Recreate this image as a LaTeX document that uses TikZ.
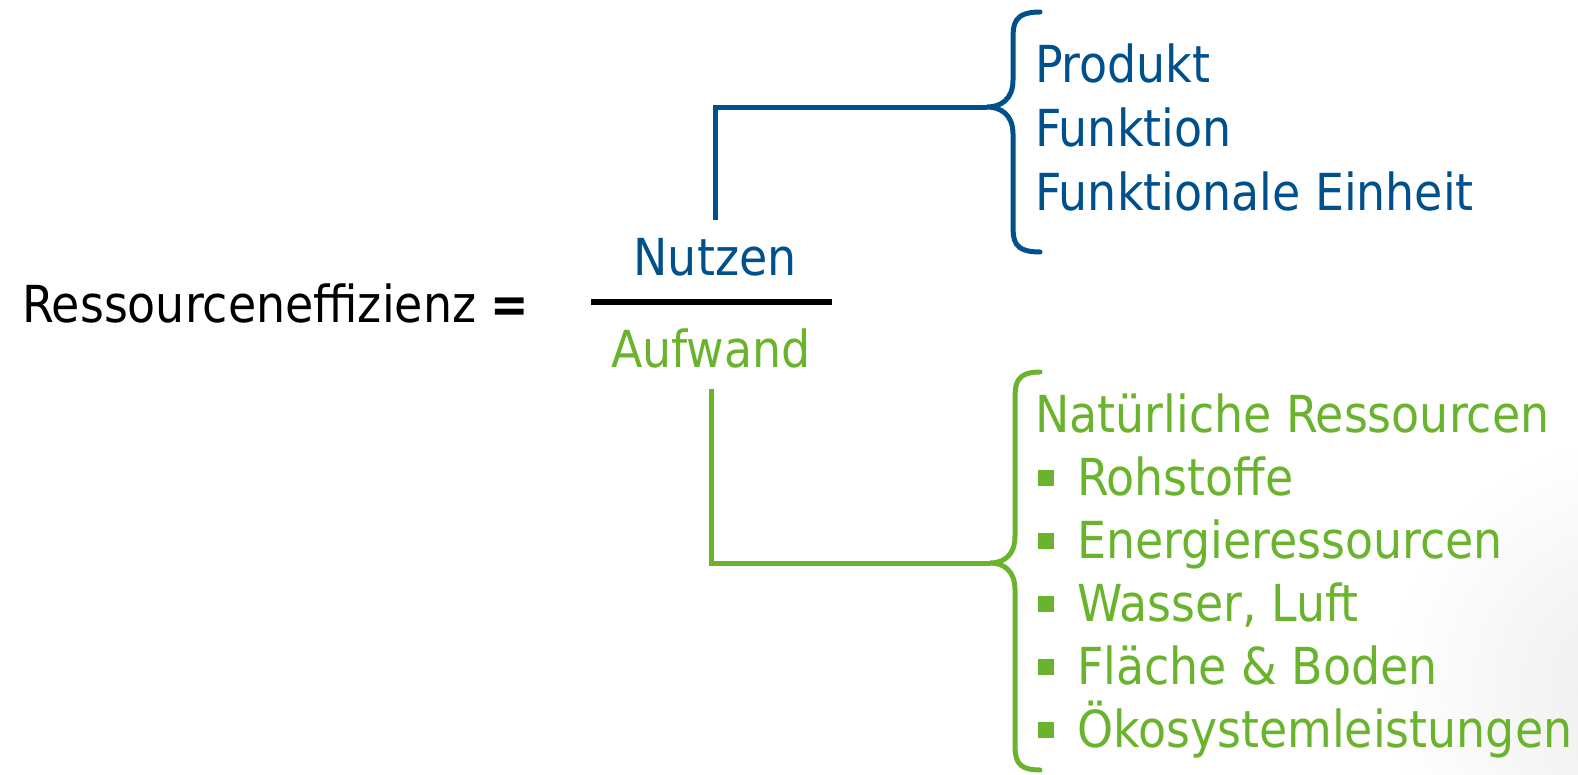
\documentclass[tikz,border=0pt]{standalone}
\usepackage{fontspec}
\setmainfont{DejaVu Sans Condensed}
\usetikzlibrary{calc}
\definecolor{nblau}{RGB}{0,80,140}
\definecolor{agruen}{RGB}{106,180,45}
\tikzset{txt/.style={inner sep=0pt, anchor=base west, font=\fontsize{51}{60}\selectfont}}

\begin{document}
\begin{tikzpicture}[x=1pt,y=-1pt]
\useasboundingbox (0,0) rectangle (1578,774);
\begin{scope}
\clip (0,0) rectangle (1578,774);
\shade[inner color=black!7, outer color=white] (1640,690) circle (260);
\end{scope}
\node[txt] (gl) at (22,322) {Ressourceneffizienz \textbf{=}};
\node[txt, anchor=base, text=nblau] (nutzen) at (715,275) {Nutzen};
\node[txt, anchor=base, text=agruen] (aufwand) at (711,367) {Aufwand};
\coordinate (bl) at (591,302);
\coordinate (br) at (832,302);
\draw[line width=6pt] (bl) -- (br);
% Klammern
\coordinate (bspitze) at (987,107);
\coordinate (gspitze) at (990,563);
\draw[nblau, line width=5pt] ([yshift=18pt]nutzen.north) |- (bspitze);
\draw[agruen, line width=5pt] ([yshift=-21pt]aufwand.south) |- (gspitze);
\draw[nblau, line width=5pt, line cap=round] (1040,12) .. controls (1013,12) and (1013,25) .. (1013,40) -- (1013,80)
  .. controls (1013,100) and (1000,107) .. (bspitze) .. controls (1000,107) and (1013,114) .. (1013,134)
  -- (1013,224) .. controls (1013,240) and (1013,252) .. (1040,252);
\draw[agruen, line width=5pt, line cap=round] (1040,372) .. controls (1015,372) and (1015,385) .. (1015,400) -- (1015,536)
  .. controls (1015,556) and (1003,563) .. (gspitze) .. controls (1003,563) and (1015,570) .. (1015,590)
  -- (1015,742) .. controls (1015,758) and (1015,770) .. (1040,770);
% Texte
\foreach \t [count=\i from 0] in {Produkt,Funktion,Funktionale Einheit}
  \node[txt, text=nblau] (n_\i) at (1035,82+64*\i) {\t};
\node[txt, text=agruen] (a_0) at (1035,432) {Natürliche Ressourcen};
\foreach \t [count=\i] in {Rohstoffe,Energieressourcen,{Wasser, Luft},Fläche \& Boden,Ökosystemleistungen} {
  \node[txt, text=agruen] (a_\i) at (1077,432+63*\i) {\t};
  \fill[agruen] ($(a_\i.base west)+(-39,-9)$) rectangle +(16,-16);
}
\end{tikzpicture}
\end{document}
